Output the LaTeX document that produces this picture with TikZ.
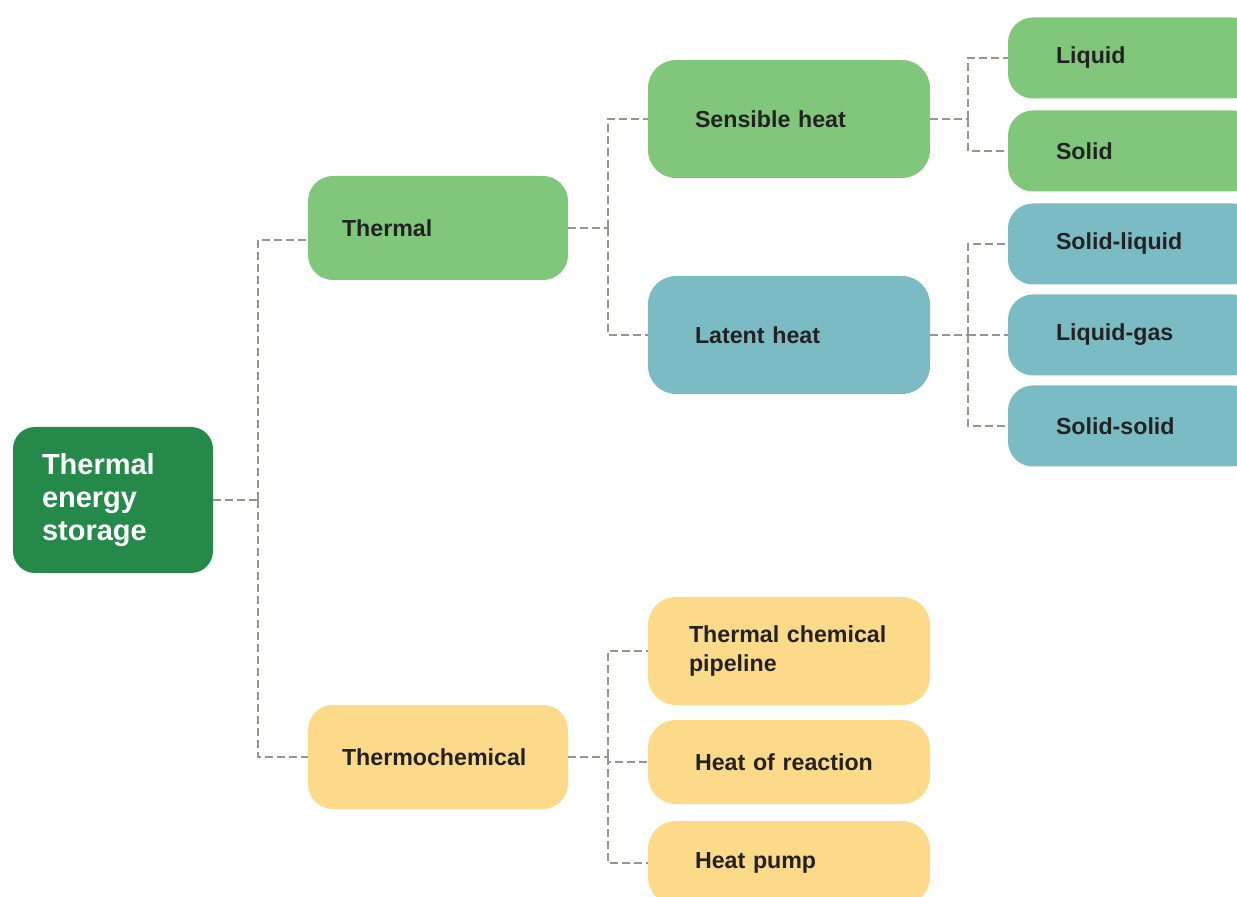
\documentclass[tikz,border=0pt]{standalone}
\usepackage{fontspec}
\setmainfont{Liberation Sans}
\definecolor{tesdark}{RGB}{37,137,74}
\definecolor{tesgreen}{RGB}{128,199,123}
\definecolor{testeal}{RGB}{123,187,196}
\definecolor{tesyellow}{RGB}{253,218,138}
\definecolor{tesline}{RGB}{150,150,142}
\definecolor{testext}{RGB}{34,34,34}
\tikzset{
  box/.style={rectangle, draw=none, align=left, text=testext,
              font=\fontsize{11.6pt}{14.5pt}\selectfont\bfseries},
  rootbox/.style={box, fill=tesdark, text=white, rounded corners=11pt,
              text width=71pt, inner xsep=14.5pt, minimum height=73pt,
              font=\fontsize{14.5pt}{16.5pt}\selectfont\bfseries},
  midbox/.style={box, rounded corners=12.5pt, text width=96pt,
              inner xsep=17pt, minimum height=52pt},
  subbox/.style={box, rounded corners=14pt, text width=94pt,
              inner xsep=23.5pt, minimum height=59pt},
  leafbox/.style={box, rounded corners=12.5pt, text width=77pt,
              inner xsep=24pt, minimum height=40.5pt},
  link/.style={draw=tesline, line width=1pt, dash pattern=on 4pt off 2pt}
}
\begin{document}
\begin{tikzpicture}[x=0.5pt, y=-0.5pt]
  \useasboundingbox (0,0) rectangle (1237,897);
  % root
  \node[rootbox] (tes) at (113,500) {Thermal\\energy\\storage};
  % level 1
  \node[midbox, fill=tesgreen]  (thermal) at (438,228) {Thermal};
  \node[midbox, fill=tesyellow] (thermo)  at (438,757) {Thermochemical};
  % level 2
  \node[subbox, fill=tesgreen]  (sens)   at (789,119) {Sensible heat};
  \node[subbox, fill=testeal]   (latent) at (789,335) {Latent heat};
  \node[subbox, fill=tesyellow, minimum height=54pt, text width=100pt,
        inner xsep=20.5pt]      (pipe)   at (789,651) {Thermal chemical\\pipeline};
  \node[subbox, fill=tesyellow, minimum height=42pt] (react) at (789,762) {Heat of reaction};
  \node[subbox, fill=tesyellow, minimum height=42pt] (pump)  at (789,863) {Heat pump};
  % level 3
  \node[leafbox, fill=tesgreen] (liquid) at (1133,58)  {Liquid};
  \node[leafbox, fill=tesgreen] (solid)  at (1133,151) {Solid};
  \node[leafbox, fill=testeal]  (sliq)   at (1133,244) {Solid-liquid};
  \node[leafbox, fill=testeal]  (lgas)   at (1133,335) {Liquid-gas};
  \node[leafbox, fill=testeal]  (ssol)   at (1133,426) {Solid-solid};

  \draw[link] (tes.east) -- ++(45,0) coordinate (j0);
  \draw[link] (j0) |- ([yshift=-6pt]thermal.west);
  \draw[link] (j0) |- (thermo.west);
  \draw[link] (thermal.east) -- ++(40,0) coordinate (j1);
  \draw[link] (j1) |- (sens.west);
  \draw[link] (j1) |- (latent.west);
  \draw[link] (sens.east) -- ++(38,0) coordinate (j2);
  \draw[link] (j2) |- (liquid.west);
  \draw[link] (j2) |- (solid.west);
  \draw[link] (latent.east) -- ++(38,0) coordinate (j3);
  \draw[link] (j3) |- (sliq.west);
  \draw[link] (j3) |- (lgas.west);
  \draw[link] (j3) |- (ssol.west);
  \draw[link] (thermo.east) -- ++(40,0) coordinate (j4);
  \draw[link] (j4) |- (pipe.west);
  \draw[link] (j4) |- (react.west);
  \draw[link] (j4) |- (pump.west);
\end{tikzpicture}
\end{document}
